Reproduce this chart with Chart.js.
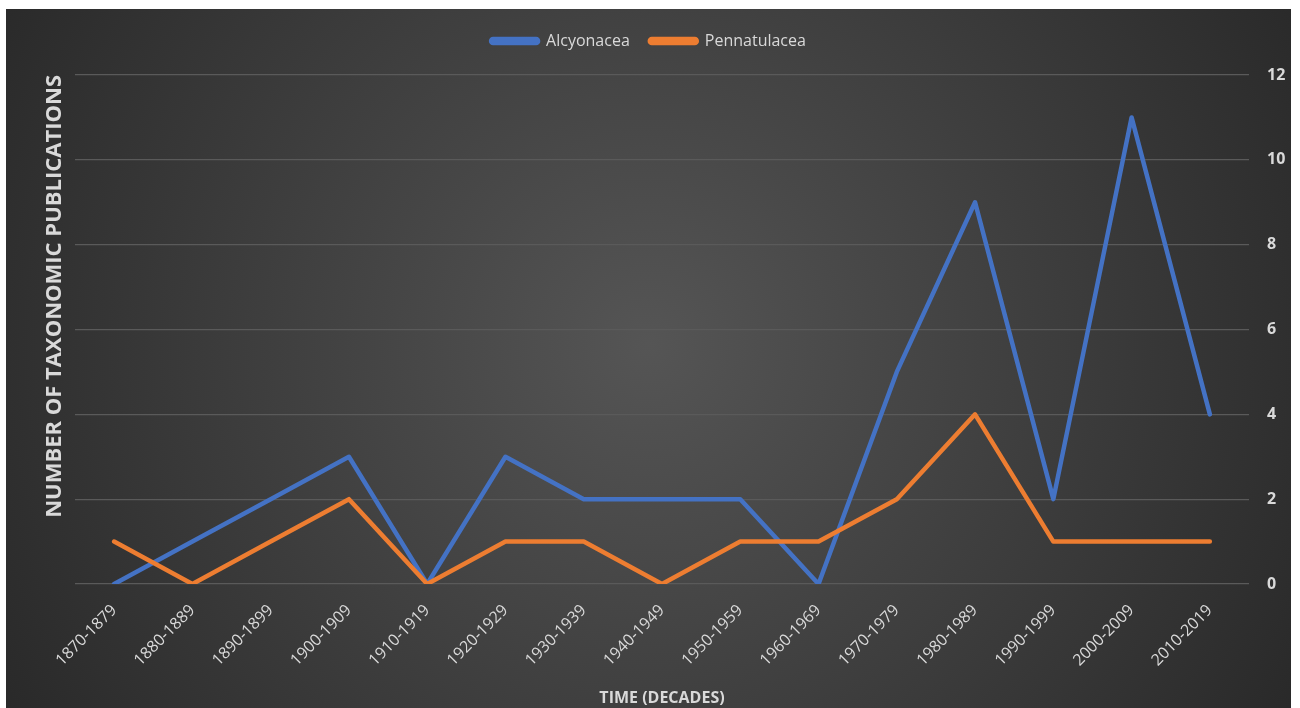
<!DOCTYPE html>
<html><head><meta charset="utf-8">
<script src="https://cdn.jsdelivr.net/npm/chart.js@4"></script>
<style>
html,body{margin:0;padding:0;background:#fff;width:1300px;height:708px;overflow:hidden;}
#wrap{position:absolute;left:6px;top:9px;width:1285px;height:699px;}
</style></head>
<body><div id="wrap"><canvas id="c"></canvas></div>
<script>
const categories = ["1870-1879","1880-1889","1890-1899","1900-1909","1910-1919","1920-1929","1930-1939","1940-1949","1950-1959","1960-1969","1970-1979","1980-1989","1990-1999","2000-2009","2010-2019"];
const alcyonacea = [0,1,2,3,0,3,2,2,2,0,5,9,2,11,4];
const pennatulacea = [1,0,1,2,0,1,1,0,1,1,2,4,1,1,1];
const seriesNames = ["Alcyonacea","Pennatulacea"];
const yTitle = "NUMBER OF TAXONOMIC PUBLICATIONS";
const xTitle = "TIME (DECADES)";

const FONT = "'Open Sans', 'Liberation Sans', sans-serif";
const TXT = "#d9d9d9";

const bgPlugin = {
  id:'bg',
  beforeDraw(chart){
    const {ctx,width,height} = chart;
    ctx.save();
    const g = ctx.createRadialGradient(width*0.5,height*0.48,0,width*0.5,height*0.48,width*0.62);
    g.addColorStop(0,'#555555');
    g.addColorStop(1,'#262626');
    ctx.fillStyle = g;
    ctx.fillRect(0,0,width,height);
    ctx.restore();
  }
};

new Chart(document.getElementById('c'),{
  type:'line',
  data:{
    labels:categories,
    datasets:[
      {label:seriesNames[0],data:alcyonacea,borderColor:'#4472C4',backgroundColor:'#4472C4',borderWidth:4.5,pointRadius:0,tension:0,borderCapStyle:'round',borderJoinStyle:'round',order:1,yAxisID:'y',xAxisID:'x'},
      {label:seriesNames[1],data:pennatulacea,borderColor:'#ED7D31',backgroundColor:'#ED7D31',borderWidth:4.5,pointRadius:0,tension:0,borderCapStyle:'round',borderJoinStyle:'round',order:0,yAxisID:'y',xAxisID:'x'}
    ]
  },
  options:{
    responsive:true,maintainAspectRatio:false,animation:false,
    layout:{padding:{top:4,right:0,left:0,bottom:0}},
    plugins:{
      legend:{
        position:'top',
        labels:{
          color:TXT,font:{family:FONT,size:16},
          boxWidth:47,boxHeight:4,useBorderRadius:true,borderRadius:2,padding:20,
          sort:(a,b)=>a.datasetIndex-b.datasetIndex
        }
      },
      tooltip:{enabled:false}
    },
    scales:{
      x:{
        offset:true,
        grid:{display:false},
        border:{display:false},
        ticks:{color:TXT,font:{family:FONT,size:16},minRotation:45,maxRotation:45,padding:9},
        title:{display:true,text:xTitle,color:TXT,font:{family:FONT,size:16,weight:'bold'},padding:{top:0,bottom:0}},
        afterFit(s){s.height=124;}
      },
      xTop:{
        position:'top',type:'category',labels:categories,offset:true,
        ticks:{display:false},
        grid:{display:false,drawTicks:false},
        border:{display:false},
        afterFit(s){s.height=16;}
      },
      y:{
        position:'right',min:0,max:12,
        ticks:{stepSize:2,color:TXT,font:{family:FONT,size:16,weight:'bold'},padding:18},
        grid:{color:'#5a5a5a',lineWidth:1.2,drawTicks:false},
        border:{display:false},
        afterFit(s){s.width=42;}
      },
      yl:{
        position:'left',min:0,max:12,
        ticks:{display:false},
        grid:{display:false,drawTicks:false},
        border:{display:false},
        title:{display:true,text:yTitle,align:'end',color:TXT,font:{family:FONT,size:22,weight:'bold'},padding:{top:36,bottom:0}},
        afterFit(s){s.width=69;}
      }
    }
  },
  plugins:[bgPlugin]
});
</script></body></html>
